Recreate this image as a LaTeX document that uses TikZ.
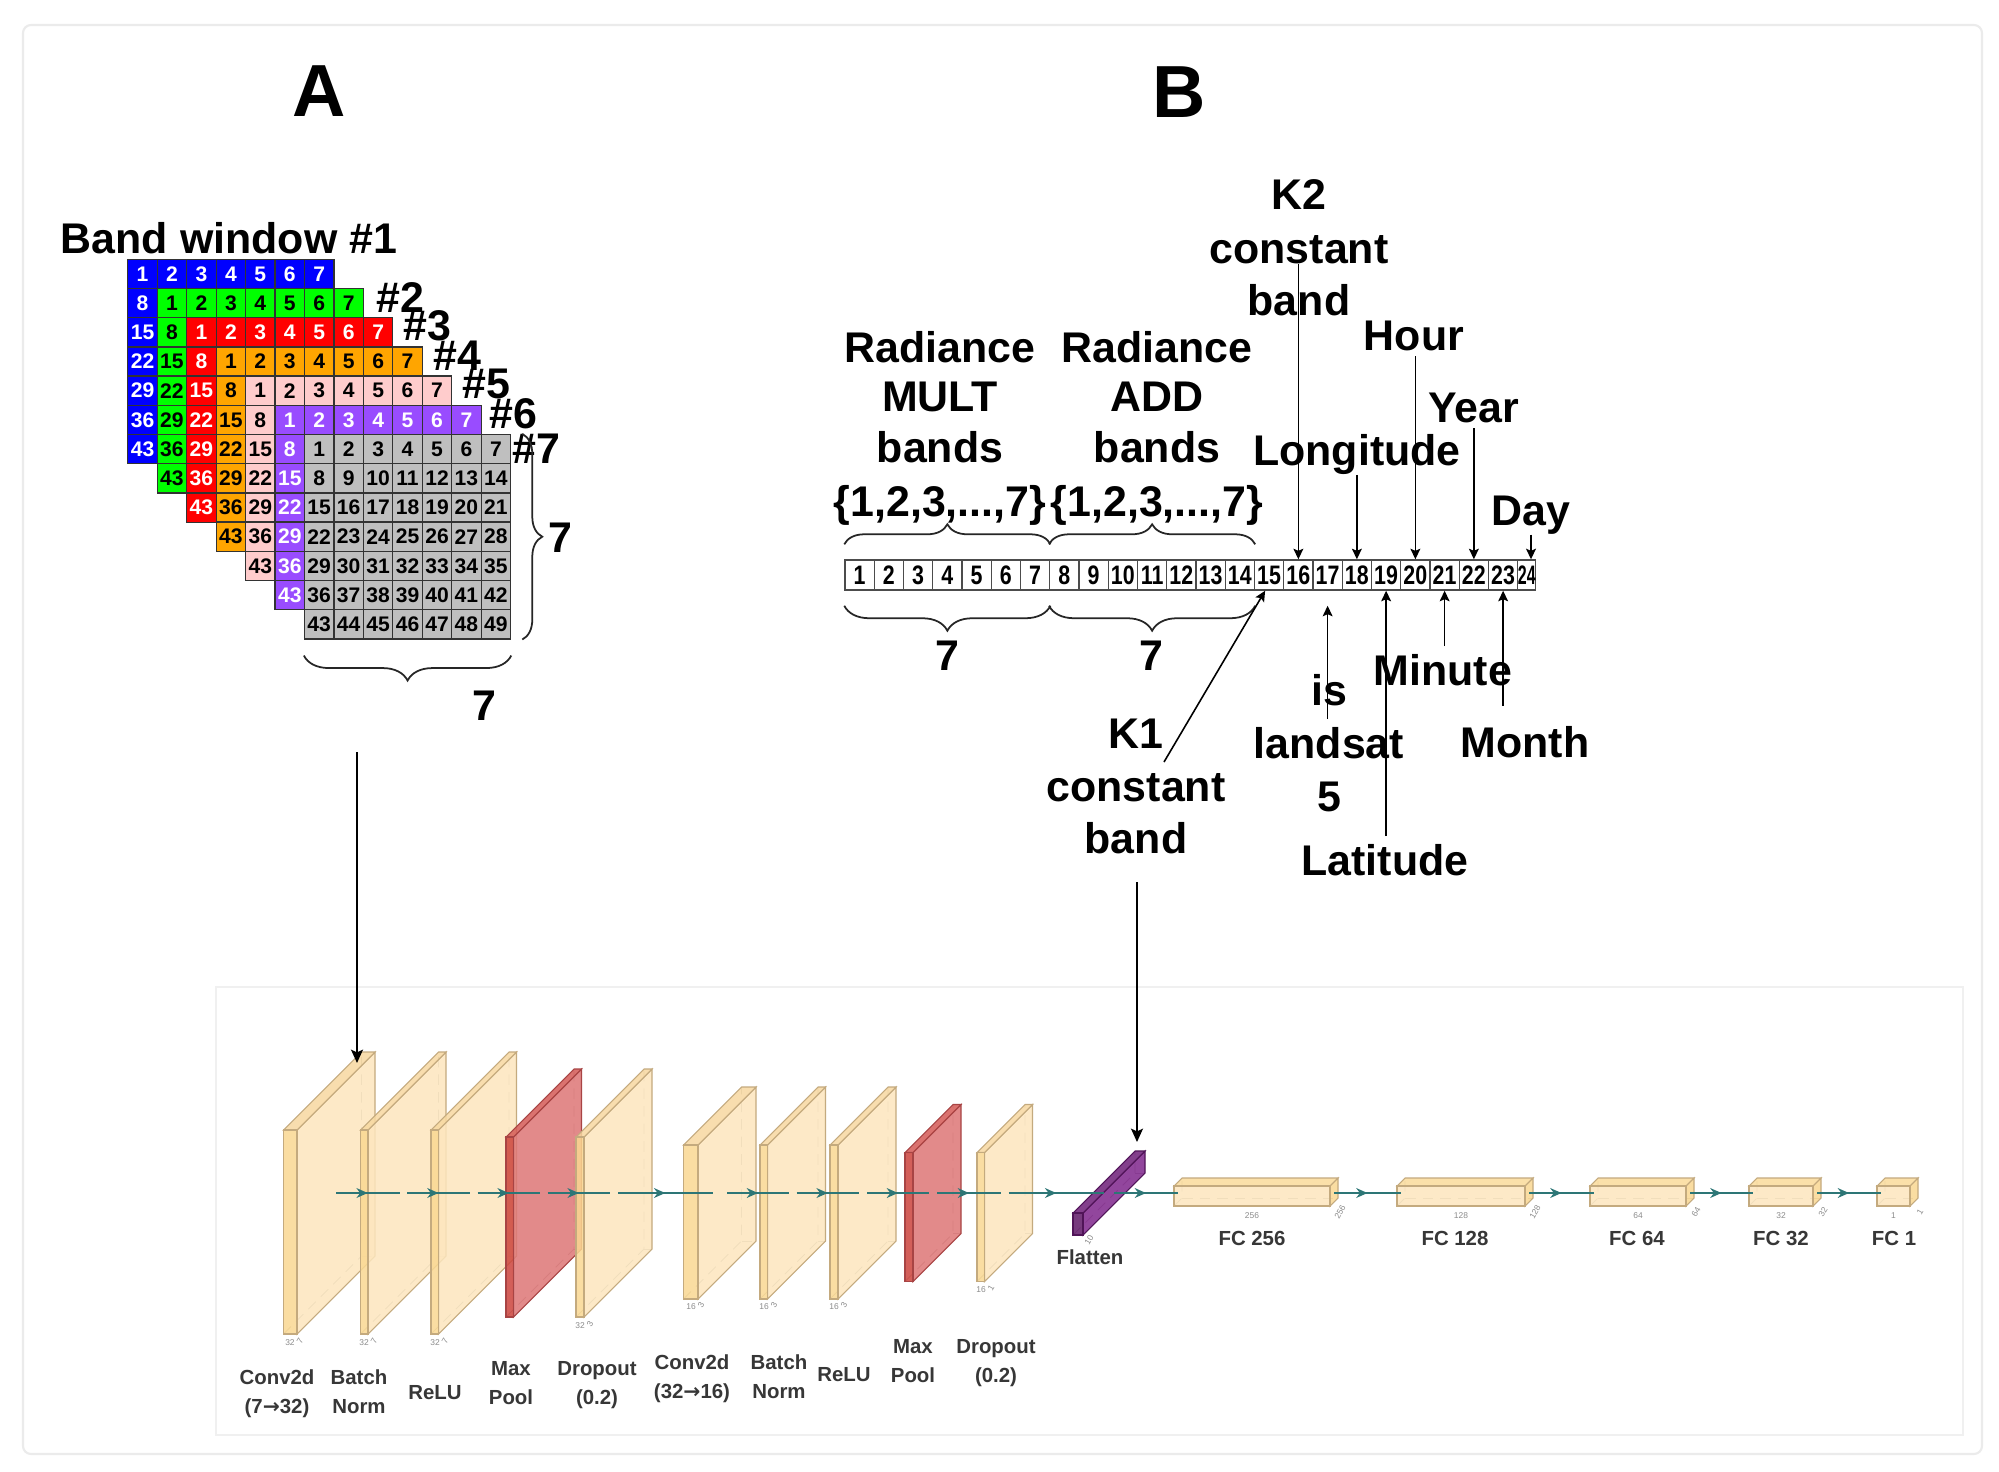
\documentclass[tikz,border=0pt]{standalone}
\usepackage{fontspec}
\setmainfont{Liberation Sans}
\newfontfamily\arrowfont{DejaVu Sans}
\usepackage{graphicx}
\usetikzlibrary{arrows.meta, decorations.pathreplacing, decorations.markings}

\definecolor{bwBlue}{RGB}{0,0,255}
\definecolor{bwGreen}{RGB}{0,255,0}
\definecolor{bwRed}{RGB}{255,0,0}
\definecolor{bwOrange}{RGB}{255,165,0}
\definecolor{bwPink}{RGB}{255,204,204}
\definecolor{bwPurple}{RGB}{153,76,255}
\definecolor{bwGray}{RGB}{191,191,191}
\definecolor{slabSide}{RGB}{253,230,190}
\definecolor{slabTop}{RGB}{247,216,160}
\definecolor{slabFront}{RGB}{250,216,146}
\definecolor{slabEdge}{RGB}{196,170,126}
\definecolor{poolSide}{RGB}{222,118,118}
\definecolor{poolTop}{RGB}{212,90,86}
\definecolor{poolFront}{RGB}{204,68,60}
\definecolor{poolEdge}{RGB}{168,68,68}
\definecolor{flatSide}{RGB}{128,38,140}
\definecolor{flatTop}{RGB}{110,30,120}
\definecolor{flatFront}{RGB}{96,24,104}
\definecolor{flatEdge}{RGB}{80,20,88}
\definecolor{flowTeal}{RGB}{45,118,118}
\definecolor{cnnText}{RGB}{55,55,55}

\begin{document}
\begin{tikzpicture}[x=0.01cm, y=-0.01cm,
  title/.style={font=\fontsize{21}{21}\selectfont\bfseries, inner sep=0pt, anchor=base},
  lbl/.style={font=\fontsize{12.2}{14}\selectfont\bfseries, inner sep=0pt, anchor=base},
  cell/.style={draw=black!80, line width=0.35pt, minimum width=0.2945cm, minimum height=0.292cm, inner sep=0pt, font=\fontsize{6}{6}\selectfont\bfseries},
  stripcell/.style={draw=black!70, line width=0.4pt, minimum width=0.2925cm, minimum height=0.3cm, inner sep=0pt, font=\fontsize{7.6}{8}\selectfont\bfseries},
  brc/.style={decorate, line width=0.5pt, black!85},
  ptr/.style={-{Stealth[length=3pt,width=2.8pt,inset=0.6pt]}, line width=0.45pt},
  bigptr/.style={-{Stealth[length=3.8pt,width=3.4pt,inset=0.8pt]}, line width=0.6pt},
  face/.style={line width=0.3pt, fill opacity=0.85},
  hidden/.style={densely dashed, line width=0.25pt, black!30},
  flow/.style={draw=flowTeal, line width=0.6pt, postaction={decorate},
    decoration={markings, mark=at position 0.5 with {\arrow{Stealth[length=3.2pt,width=2.8pt,color=flowTeal]}}}},
  cnnlbl/.style={font=\fontsize{5.8}{6}\selectfont\bfseries, text=cnnText, inner sep=0pt, anchor=base},
  dimlbl/.style={font=\fontsize{2.4}{3}\selectfont, text=black!45, inner sep=0pt}
]
  \useasboundingbox (0,0) rectangle (1999,1472);
  \fill[white] (0,0) rectangle (1999,1472);
  \draw[black!8, line width=0.6pt, rounded corners=0.08cm] (23,25) rectangle (1982,1454);
  \draw[black!6, line width=0.5pt] (216,987) rectangle (1963,1435);

  \node[title] (titleA) at (319,116) {A};
  \node[title] (titleB) at (1179,117) {B};

  % band windows, only the visible cells of each layer
  \node[lbl] (win1) at (229,253) {Band window \#1};
  \foreach \k/\bg/\fg in {0/bwBlue/white, 1/bwGreen/black, 2/bwRed/white, 3/bwOrange/black, 4/bwPink/black, 5/bwPurple/white, 6/bwGray/black}
    \foreach \i in {0,...,6}
      \foreach \j in {0,...,6} {
        \pgfmathtruncatemacro{\vis}{(\k==6)||(\i==0)||(\j==0)}
        \ifnum\vis=1
          \pgfmathtruncatemacro{\n}{7*\i+\j+1}
          \node[cell, fill=\bg, text=\fg] (w\k-\i-\j) at ({127.8+(\k+\j+0.5)*29.45}, {259.3+(\k+\i+0.5)*29.2}) {\n};
        \fi
      }
  \foreach \k/\px/\py in {2/376/312, 3/403/340, 4/433/370, 5/462/398, 6/489/428, 7/512/463}
    \node[lbl, anchor=base west] (win\k) at (\px,\py) {\#\k};
  \draw[brc, decoration={brace, amplitude=0.2cm}] ([xshift=0.11cm]w6-0-6.north east) -- ([xshift=0.11cm]w6-6-6.south east);
  \node[lbl] (rows7) at (560,552) {7};
  \draw[brc, decoration={brace, amplitude=0.25cm}] ([yshift=-0.16cm]w6-6-6.south east) -- ([yshift=-0.16cm]w6-6-0.south west);
  \node[lbl] (cols7) at (484,720) {7};

  % feature strip
  \foreach \n in {1,...,23}
    \node[stripcell] (c\n) at ({845+(\n-0.5)*29.25}, 575) {\scalebox{0.8}[1]{\n}};
  \node[stripcell, minimum width=0.18cm] (c24) at (1526.75,575) {\scalebox{0.6}[1]{24}};

  \draw[brc, decoration={brace, amplitude=0.2cm}] ([yshift=0.15cm]c1.north west) -- ([yshift=0.15cm]c7.north east);
  \draw[brc, decoration={brace, amplitude=0.2cm}] ([yshift=0.15cm]c8.north west) -- ([yshift=0.15cm]c14.north east);
  \draw[brc, decoration={brace, amplitude=0.25cm}] ([yshift=-0.15cm]c7.south east) -- ([yshift=-0.15cm]c1.south west);
  \draw[brc, decoration={brace, amplitude=0.25cm}] ([yshift=-0.15cm]c14.south east) -- ([yshift=-0.15cm]c8.south west);
  \node[lbl] (mult7) at (947,670) {7};
  \node[lbl] (add7) at (1151,670) {7};

  \node[lbl] (mult1) at (940,362) {Radiance};
  \node[lbl] (mult2) at (940,411) {MULT};
  \node[lbl] (mult3) at (940,462) {bands};
  \node[lbl] (mult4) at (940,516) {\{1,2,3,...,7\}};
  \node[lbl] (add1) at (1157,362) {Radiance};
  \node[lbl] (add2) at (1157,411) {ADD};
  \node[lbl] (add3) at (1157,462) {bands};
  \node[lbl] (add4) at (1157,516) {\{1,2,3,...,7\}};

  \node[lbl] (k2a) at (1299,209) {K2};
  \node[lbl] (k2b) at (1299,263) {constant};
  \node[lbl] (k2c) at (1299,315) {band};
  \node[lbl] (hour) at (1414,350) {Hour};
  \node[lbl] (year) at (1474,422) {Year};
  \node[lbl] (lon) at (1357,465) {Longitude};
  \node[lbl] (day) at (1531,525) {Day};

  \draw[ptr] (c16.north |- k2b.south) -- (c16.north);
  \draw[ptr] ([yshift=-0.05cm]c20.north |- hour.south) -- (c20.north);
  \draw[ptr] ([yshift=-0.05cm]c22.north |- year.south) -- (c22.north);
  \draw[ptr] (c18.north |- lon.south) -- (c18.north);
  \draw[ptr] (day.south) -- (day.south |- c24.north);

  \node[lbl] (k1a) at (1136,748) {K1};
  \node[lbl] (k1b) at (1136,801) {constant};
  \node[lbl] (k1c) at (1136,853) {band};
  \node[lbl] (ls1) at (1329,705) {is};
  \node[lbl] (ls2) at (1329,758) {landsat};
  \node[lbl] (ls3) at (1329,811) {5};
  \node[lbl] (lat) at (1385,875) {Latitude};
  \node[lbl] (minute) at (1443,685) {Minute};
  \node[lbl] (month) at (1525,757) {Month};

  \coordinate (k1tail) at (1164,762);
  \draw[ptr] (k1tail) -- ([xshift=-0.04cm]c15.south);
  \draw[ptr] ([yshift=0.07cm]c17.south |- ls2.north) -- ([yshift=-0.15cm]c17.south);
  \draw[ptr] ([yshift=0.07cm]c19.south |- lat.north) -- (c19.south);
  \draw[ptr] ([yshift=0.07cm]c21.south |- minute.north) -- (c21.south);
  \draw[ptr] ([yshift=-1.15cm]c23.south) -- (c23.south);

  % network
  \foreach \nm/\fx/\tk/\hh/\dd/\kind in {s1/283.5/13.5/204/78/slab, s2/360.5/7.5/204/78/slab, s3/431/7.5/204/78/slab,
      s4/506/7.5/180/68/pool, s5/576/8/180/68/slab, s6/683.5/14.5/154/58/slab, s7/760/7.5/154/58/slab,
      s8/830/8/154/58/slab, s9/905/8/129/48/pool, s10/977/7.5/129/48/slab, flat/1073/10/22/62/flat} {
    \pgfmathsetmacro{\ty}{1193+\dd/2-\hh/2}
    \pgfmathsetmacro{\by}{\ty+\hh}
    \pgfmathsetmacro{\rx}{\fx+\tk}
    \draw[hidden] (\fx,\by) -- ++(\dd,-\dd) -- ++(0,-\hh);
    \draw[hidden] (\fx,\by) ++(\dd,-\dd) -- ++(\tk,0);
    \filldraw[face, fill=\kind Side, draw=\kind Edge] (\rx,\ty) -- ++(\dd,-\dd) -- ++(0,\hh) -- ++(-\dd,\dd) -- cycle;
    \filldraw[face, fill=\kind Top, draw=\kind Edge] (\fx,\ty) -- ++(\dd,-\dd) -- ++(\tk,0) -- ++(-\dd,\dd) -- cycle;
    \filldraw[face, fill=\kind Front, draw=\kind Edge] (\fx,\ty) rectangle (\rx,\by);
    \coordinate (\nm-w) at ({\fx+\dd/2},1193);
    \coordinate (\nm-e) at ({\rx+\dd/2},1193);
  }
  \foreach \nm/\fx/\ww/\lab in {fc256/1174/156/256, fc128/1397/128/128, fc64/1590/96/64, fc32/1749/64/32, fc1/1877/33/1} {
    \draw[hidden] (\fx,1206) -- ++(8,-8) -- ++(0,-20);
    \draw[hidden] (\fx,1206) ++(8,-8) -- ++(\ww,0);
    \filldraw[face, fill=slabFront!80!slabSide, draw=slabEdge] (\fx,1186) -- ++(8,-8) -- ++(\ww,0) -- ++(-8,8) -- cycle;
    \filldraw[face, fill=slabFront, draw=slabEdge] (\fx+\ww,1186) -- ++(8,-8) -- ++(0,20) -- ++(-8,8) -- cycle;
    \filldraw[face, fill=slabSide, draw=slabEdge] (\fx,1186) rectangle ++(\ww,20);
    \coordinate (\nm-w) at (\fx+4,1193);
    \coordinate (\nm-e) at (\fx+\ww+4,1193);
    \node[dimlbl] (\nm-dz) at (\fx+\ww/2,1216) {\lab};
    \node[dimlbl, rotate=60] (\nm-dr) at (\fx+\ww+10,1212) {\lab};
  }
  \foreach \nm/\px/\py/\lab/\rot in {s1/290/1343/32/7, s2/364/1343/32/7, s3/435/1343/32/7, s5/580/1326/32/3,
      s6/691/1307/16/3, s7/764/1307/16/3, s8/834/1307/16/3, s10/981/1290/16/1} {
    \node[dimlbl] (\nm-dz) at (\px,\py) {\lab};
    \node[dimlbl, rotate=60] (\nm-dr) at (\px+10,\py-2) {\rot};
  }
  \node[dimlbl, rotate=60] (flat-dr) at (1089,1240) {10};

  \foreach \a/\b in {s1/s2, s2/s3, s3/s4, s4/s5, s5/s6, s6/s7, s7/s8, s8/s9, s9/s10, s10/flat,
      flat/fc256, fc256/fc128, fc128/fc64, fc64/fc32, fc32/fc1}
    \draw[flow] (\a-e) -- (\b-w);

  \node[cnnlbl] (l1a) at (277,1384) {Conv2d};
  \node[cnnlbl] (l1b) at (277,1413) {(7{\arrowfont\bfseries →}32)};
  \node[cnnlbl] (l2a) at (359,1384) {Batch};
  \node[cnnlbl] (l2b) at (359,1413) {Norm};
  \node[cnnlbl] (l3) at (435,1399) {ReLU};
  \node[cnnlbl] (l4a) at (511,1375) {Max};
  \node[cnnlbl] (l4b) at (511,1404) {Pool};
  \node[cnnlbl] (l5a) at (597,1375) {Dropout};
  \node[cnnlbl] (l5b) at (597,1404) {(0.2)};
  \node[cnnlbl] (l6a) at (692,1369) {Conv2d};
  \node[cnnlbl] (l6b) at (692,1398) {(32{\arrowfont\bfseries →}16)};
  \node[cnnlbl] (l7a) at (779,1369) {Batch};
  \node[cnnlbl] (l7b) at (779,1398) {Norm};
  \node[cnnlbl] (l8) at (844,1381) {ReLU};
  \node[cnnlbl] (l9a) at (913,1353) {Max};
  \node[cnnlbl] (l9b) at (913,1382) {Pool};
  \node[cnnlbl] (l10a) at (996,1353) {Dropout};
  \node[cnnlbl] (l10b) at (996,1382) {(0.2)};
  \node[cnnlbl] (lflat) at (1090,1264) {Flatten};
  \node[cnnlbl] (lfc256) at (1252,1245) {FC 256};
  \node[cnnlbl] (lfc128) at (1455,1245) {FC 128};
  \node[cnnlbl] (lfc64) at (1637,1245) {FC 64};
  \node[cnnlbl] (lfc32) at (1781,1245) {FC 32};
  \node[cnnlbl] (lfc1) at (1894,1245) {FC 1};

  % inputs into the network
  \coordinate (gridout) at (357,752);
  \coordinate (s1top) at (357,1063);
  \draw[bigptr] (gridout) -- (s1top);
  \coordinate (k1out) at (1137,882);
  \coordinate (flattop) at (1137,1142);
  \draw[bigptr] (k1out) -- (flattop);
\end{tikzpicture}
\end{document}
